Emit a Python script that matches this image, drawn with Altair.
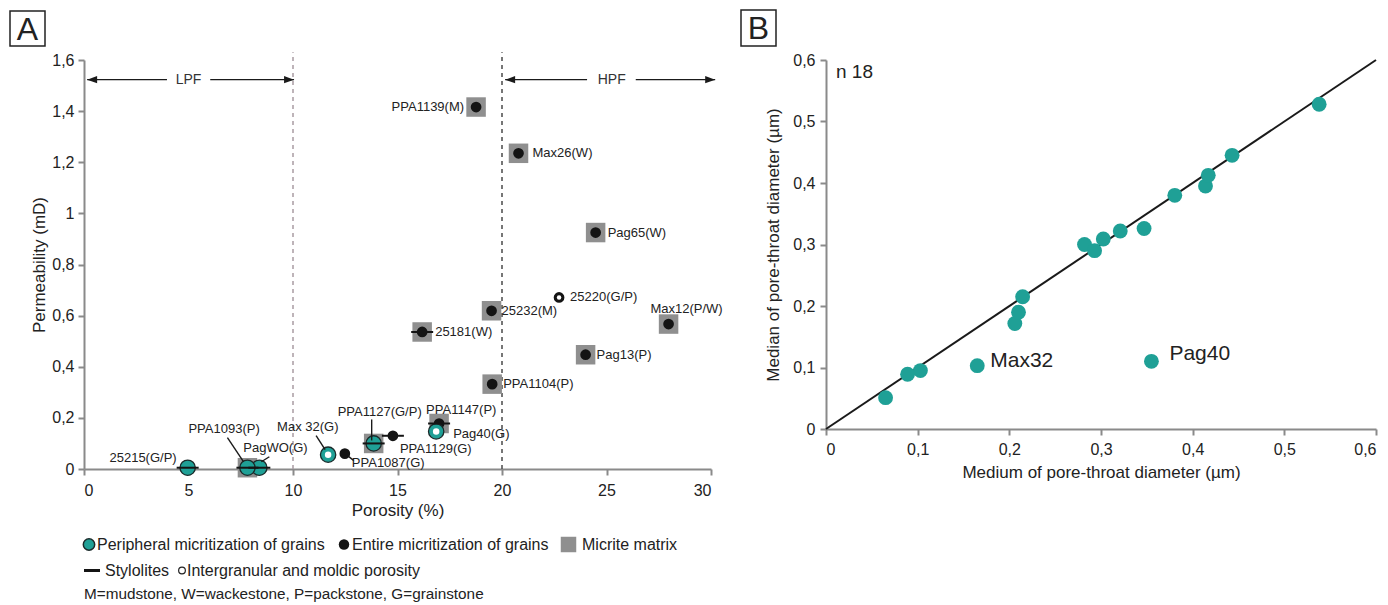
import altair as alt
import pandas as pd

# ---------------- Panel A data ----------------
samples = ["PPA1139(M)", "Max26(W)", "Pag65(W)", "25220(G/P)", "25232(M)", "Max12(P/W)",
           "25181(W)", "Pag13(P)", "PPA1104(P)", "PPA1147(P)", "Pag40(G)", "PPA1129(G)",
           "PPA1127(G/P)", "PPA1087(G)", "Max 32(G)", "PagWO(G)", "PPA1093(P)", "25215(G/P)"]
porosity = [18.76, 20.79, 24.48, 22.73, 19.50, 27.97, 16.18, 24.00, 19.53, 16.99, 16.85, 14.78,
            13.86, 12.48, 11.68, 8.39, 7.82, 4.96]
permeability = [1.416, 1.235, 0.925, 0.671, 0.619, 0.567, 0.536, 0.447, 0.332, 0.178, 0.147, 0.130,
                0.100, 0.060, 0.056, 0.005, 0.005, 0.005]
micritization = ["entire", "entire", "entire", "entire", "entire", "entire", "entire", "entire",
                 "entire", "entire", "peripheral", "entire", "peripheral", "entire", "peripheral",
                 "peripheral", "peripheral", "peripheral"]
micrite_matrix = [True, True, True, False, True, True, True, True, True, True, False, False,
                  True, False, False, False, True, False]
stylolites = [False, False, False, False, False, False, True, False, False, True, False, True,
              True, False, False, True, True, True]
intergranular = [False, False, False, True, False, False, False, False, False, False, True, False,
                 False, False, True, False, False, False]

# field boundary annotations (LPF / HPF)
boundary_porosity = [10, 20]
field_names = ["LPF", "HPF"]

# ---------------- Panel B data ----------------
medium_ptd = [0.065, 0.089, 0.103, 0.165, 0.206, 0.210, 0.2145, 0.282, 0.293, 0.3025, 0.321,
              0.347, 0.3805, 0.414, 0.417, 0.443, 0.538, 0.355]
median_ptd = [0.051, 0.089, 0.095, 0.103, 0.1715, 0.190, 0.215, 0.300, 0.290, 0.309, 0.322,
              0.326, 0.380, 0.395, 0.4125, 0.445, 0.528, 0.110]
b_labels = ["", "", "", "Max32", "", "", "", "", "", "", "", "", "", "", "", "", "", "Pag40"]

# ---------------- styles ----------------
FONT = "Liberation Sans"
TXT = "#222222"
TEAL = "#1fa096"
AXC = "#8a8a8a"

dfA = pd.DataFrame(dict(sample=samples, porosity=porosity, permeability=permeability,
                        micr=micritization, matrix=micrite_matrix, stylo=stylolites,
                        pore=intergranular))
dfB = pd.DataFrame(dict(medium=medium_ptd, median=median_ptd, label=b_labels))

comma = "replace(datum.label, '.', ',')"

xA = alt.X("porosity:Q", scale=alt.Scale(domain=[0, 30], nice=False, zero=False),
           axis=alt.Axis(values=[0, 5, 10, 15, 20, 25, 30], title="Porosity (%)", grid=False,
                         tickSize=6, labelPadding=7, titlePadding=4))
yA = alt.Y("permeability:Q", scale=alt.Scale(domain=[0, 1.6], nice=False, zero=False),
           axis=alt.Axis(values=[0, 0.2, 0.4, 0.6, 0.8, 1, 1.2, 1.4, 1.6], format="~g",
                         labelExpr=comma, title="Permeability (mD)", grid=False,
                         tickSize=6, labelPadding=4, titlePadding=3))

one = alt.Data(values=[{"k": 1}])

# dashed boundaries
df_dash = pd.DataFrame(dict(porosity=boundary_porosity, permeability=[0, 0], top=[1.63, 1.63],
                            col=["#a99ca3", "#4a4a4a"]))
dashes = alt.Chart(df_dash).mark_rule(strokeDash=[4, 4], strokeWidth=1.5).encode(
    x=xA, y=yA, y2="top:Q", color=alt.Color("col:N", scale=None))

# arrows
df_arr = pd.DataFrame(dict(porosity=[0.15, 6.04, 20.15, 26.4], x_end=[3.97, 10.05, 24.07, 30.2],
                           permeability=[1.523] * 4))
arrow_lines = alt.Chart(df_arr).mark_rule(color="#1a1a1a", strokeWidth=1.3).encode(
    x=xA, x2="x_end:Q", y=yA)
df_tips = pd.DataFrame(dict(porosity=[0.15, 10.05, 20.15, 30.2], permeability=[1.523] * 4,
                            d=["L", "R", "L", "R"]))
tips_l = alt.Chart(df_tips).transform_filter("datum.d == 'L'").mark_point(
    shape="M0,0L1,-0.36L1,0.36Z", filled=True, size=400, color="#1a1a1a", opacity=1).encode(x=xA, y=yA)
tips_r = alt.Chart(df_tips).transform_filter("datum.d == 'R'").mark_point(
    shape="M0,0L-1,-0.36L-1,0.36Z", filled=True, size=400, color="#1a1a1a", opacity=1).encode(x=xA, y=yA)
df_ft = pd.DataFrame(dict(porosity=[5.0, 25.25], permeability=[1.523, 1.523], name=field_names))
field_text = alt.Chart(df_ft).mark_text(fontSize=14, font=FONT, color="#333333",
                                        baseline="middle").encode(x=xA, y=yA, text="name:N")

base = alt.Chart(dfA)
squares = base.transform_filter("datum.matrix").mark_point(
    shape="square", filled=True, size=380, color="#8f8f8f", opacity=1).encode(x=xA, y=yA)
black = base.transform_filter("datum.micr == 'entire'").mark_circle(
    size=115, color="#141414", opacity=1).encode(x=xA, y=yA)
teal = base.transform_filter("datum.micr == 'peripheral'").mark_circle(
    size=235, fill=TEAL, stroke="#1b2a2a", strokeWidth=1.3, opacity=1).encode(x=xA, y=yA)
white_t = base.transform_filter("datum.pore && datum.micr == 'peripheral'").mark_circle(
    size=42, color="white", opacity=1).encode(x=xA, y=yA)
white_b = base.transform_filter("datum.pore && datum.micr == 'entire'").mark_circle(
    size=20, color="white", opacity=1).encode(x=xA, y=yA)
stylo = base.transform_filter("datum.stylo").mark_tick(
    orient="horizontal", size=22, thickness=2, color="#141414", opacity=1).encode(x=xA, y=yA)

leader_layout = {
    "PPA1093(P)": (-20, -30, -4, -6),
    "PagWO(G)": (2, -6, 10, -11),
    "Max 32(G)": (-12, -19, -3, -5),
    "PPA1127(G/P)": (-2, -24, -2, -3),
    "PPA1087(G)": (4, 3, 9, 7),
}
leaders = []
for nm, (a, b, c, d) in leader_layout.items():
    leaders.append(base.transform_filter(alt.datum.sample == nm).mark_rule(
        color="#1a1a1a", strokeWidth=1.4, xOffset=a, yOffset=b, x2Offset=c, y2Offset=d).encode(
        x=xA, y=yA, x2="porosity:Q", y2="permeability:Q"))

label_layout = {
    "PPA1139(M)": (-12, 0, "right"),
    "Max26(W)": (14, 0, "left"),
    "Pag65(W)": (12, 0, "left"),
    "25220(G/P)": (11, 0, "left"),
    "25232(M)": (10, 0, "left"),
    "Max12(P/W)": (18, -15, "center"),
    "25181(W)": (13, 0, "left"),
    "Pag13(P)": (11, 0, "left"),
    "PPA1104(P)": (11, 0, "left"),
    "PPA1147(P)": (-13, -13, "left"),
    "Pag40(G)": (17, 3, "left"),
    "PPA1129(G)": (7, 13, "left"),
    "PPA1127(G/P)": (-36, -31, "left"),
    "PPA1087(G)": (7, 9, "left"),
    "Max 32(G)": (-51, -28, "left"),
    "PagWO(G)": (-16, -20, "left"),
    "PPA1093(P)": (-59, -39, "left"),
    "25215(G/P)": (-11, -10, "right"),
}
labels = []
for nm, (dx, dy, al) in label_layout.items():
    labels.append(base.transform_filter(alt.datum.sample == nm).mark_text(
        dx=dx, dy=dy, align=al, baseline="middle", fontSize=13, font=FONT, color=TXT).encode(
        x=xA, y=yA, text="sample:N"))

# legend (below panel A)
def ltxt(s, x, y, fs=16):
    return alt.Chart(one).mark_text(text=s, align="left", baseline="middle", fontSize=fs,
                                    font=FONT, color=TXT).encode(x=alt.value(x), y=alt.value(y))

leg = [
    alt.Chart(one).mark_circle(size=130, fill=TEAL, stroke="#1b2a2a", strokeWidth=1.5, opacity=1).encode(
        x=alt.value(5), y=alt.value(484.5)),
    ltxt("Peripheral micritization of grains", 13, 484.5),
    alt.Chart(one).mark_circle(size=110, color="#141414", opacity=1).encode(
        x=alt.value(260), y=alt.value(484.5)),
    ltxt("Entire micritization of grains", 268, 484.5),
    alt.Chart(one).mark_point(shape="square", filled=True, size=240, color="#8f8f8f", opacity=1).encode(
        x=alt.value(484.5), y=alt.value(484.5)),
    ltxt("Micrite matrix", 498, 484.5),
    alt.Chart(one).mark_rule(color="#141414", strokeWidth=3).encode(
        x=alt.value(0), x2=alt.value(16), y=alt.value(510.5)),
    ltxt("Stylolites", 21, 510.5),
    alt.Chart(one).mark_point(shape="circle", filled=False, size=45, color="#222222",
                              strokeWidth=1.2, opacity=1).encode(x=alt.value(98), y=alt.value(510.5)),
    ltxt("Intergranular and moldic porosity", 103, 510.5),
    ltxt("M=mudstone, W=wackestone, P=packstone, G=grainstone", 0, 533.5, 15.3),
]

boxA = [
    alt.Chart(one).mark_rect(fill="white", stroke="#222222", strokeWidth=1.5).encode(
        x=alt.value(-74), x2=alt.value(-39), y=alt.value(-49), y2=alt.value(-14)),
    alt.Chart(one).mark_text(text="A", fontSize=32, font=FONT, color="#222222", align="center",
                             baseline="middle").encode(x=alt.value(-56.5), y=alt.value(-30.5)),
]

panelA = alt.layer(dashes, arrow_lines, tips_l, tips_r, field_text, squares, black, teal,
                   white_t, white_b, stylo, *leaders, *labels, *leg, *boxA).properties(
    width=627, height=409)

# ---------------- Panel B ----------------
xB = alt.X("medium:Q", scale=alt.Scale(domain=[0, 0.6], nice=False, zero=False),
           axis=alt.Axis(values=[0, 0.1, 0.2, 0.3, 0.4, 0.5, 0.6], format="~g", labelExpr=comma,
                         title="Medium of pore-throat diameter (µm)", grid=False,
                         tickSize=6, labelPadding=6, titlePadding=7))
yB = alt.Y("median:Q", scale=alt.Scale(domain=[0, 0.6], nice=False, zero=False),
           axis=alt.Axis(values=[0, 0.1, 0.2, 0.3, 0.4, 0.5, 0.6], format="~g", labelExpr=comma,
                         title="Median of pore-throat diameter (µm)", grid=False,
                         tickSize=6, labelPadding=5, titlePadding=10))

df_line = pd.DataFrame(dict(medium=[0, 0.6], median=[0, 0.6]))
lineB = alt.Chart(df_line).mark_line(color="#1a1a1a", strokeWidth=2).encode(x=xB, y=yB)
ptsB = alt.Chart(dfB).mark_circle(size=220, color=TEAL, opacity=1).encode(x=xB, y=yB)
lab_max = alt.Chart(dfB).transform_filter("datum.label == 'Max32'").mark_text(
    dx=13, dy=-5, align="left", baseline="middle", fontSize=21, font=FONT, color=TXT).encode(
    x=xB, y=yB, text="label:N")
lab_pag = alt.Chart(dfB).transform_filter("datum.label == 'Pag40'").mark_text(
    dx=18, dy=-7, align="left", baseline="middle", fontSize=21, font=FONT, color=TXT).encode(
    x=xB, y=yB, text="label:N")
n_text = alt.Chart(one).mark_text(text="n 18", align="left", baseline="middle", fontSize=19,
                                  font=FONT, color=TXT).encode(x=alt.value(10), y=alt.value(12))
boxB = [
    alt.Chart(one).mark_rect(fill="white", stroke="#222222", strokeWidth=1.5).encode(
        x=alt.value(-85), x2=alt.value(-50), y=alt.value(-50), y2=alt.value(-14)),
    alt.Chart(one).mark_text(text="B", fontSize=32, font=FONT, color="#222222", align="center",
                             baseline="middle").encode(x=alt.value(-67.5), y=alt.value(-31)),
]
panelB = alt.layer(lineB, ptsB, lab_max, lab_pag, n_text, *boxB).properties(width=550, height=369)

chart = alt.hconcat(panelA, panelB, spacing=17).properties(
    padding={"left": 1, "top": 1, "right": 0, "bottom": 0}, background="white"
).configure_view(stroke=None).configure_axis(
    labelFont=FONT, labelFontSize=16, labelColor=TXT, titleFont=FONT, titleFontSize=17,
    titleFontWeight="normal", titleColor=TXT, domainColor=AXC, domainWidth=2, tickColor=AXC,
    tickWidth=2
)

chart.save("out.html", embed_options={"renderer": "svg", "actions": False})
